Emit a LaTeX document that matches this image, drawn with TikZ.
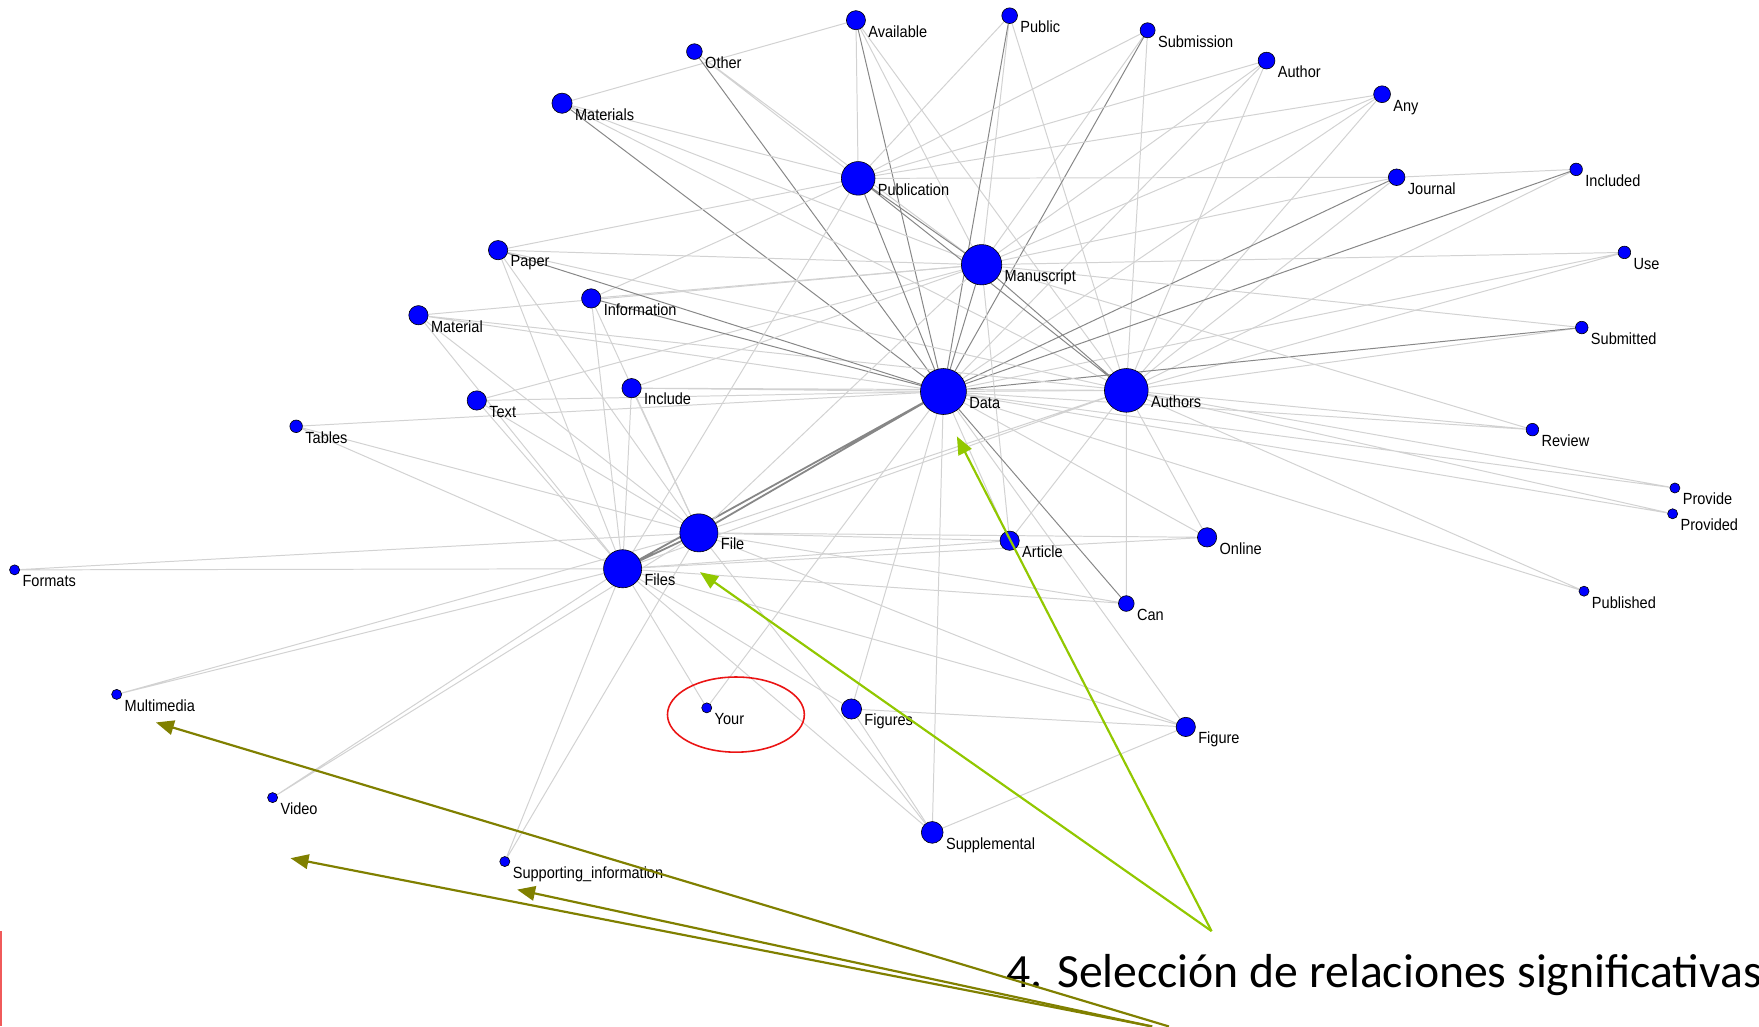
\documentclass[tikz,border=0pt]{standalone}
\usepackage{fontspec}
\setmainfont{Liberation Sans}
\newfontfamily\netfont[FakeStretch=0.9]{Liberation Sans}
\newfontfamily\slidefont{Carlito}
\usetikzlibrary{arrows.meta,backgrounds,shapes.geometric}
\definecolor{edgelight}{RGB}{210,210,210}
\definecolor{edgedark}{RGB}{135,135,135}
\definecolor{nodeblue}{RGB}{0,0,255}
\definecolor{arrowgreen}{RGB}{146,200,0}
\definecolor{arrowolive}{RGB}{128,128,0}
\definecolor{markred}{RGB}{235,20,20}
\definecolor{barred}{RGB}{240,90,90}

\begin{document}
\begin{tikzpicture}[x=0.02cm, y=-0.02cm,
    dot/.style={circle, draw=black, line width=0.3pt, fill=nodeblue, inner sep=0pt, minimum size=#1*0.04cm},
    lbl/.style={font=\netfont\fontsize{8.2}{9}\selectfont, inner sep=0pt, anchor=base west, xshift=0.04cm, yshift=-0.3cm},
    lnk/.style={draw=edgelight, line width=0.5pt},
    lnkd/.style={draw=edgedark, line width=0.5pt},
    hint/.style={line width=1.1pt, -{Triangle[length=0.32cm, width=0.26cm]}}]
    \useasboundingbox (0,0) rectangle (1568,915);

    % words of the upper fan
    \node[dot=8.5, label={[lbl, name=available-t]east:Available}] (available) at (763,18) {};
    \node[dot=7, label={[lbl, name=public-t]east:Public}] (public) at (900,14) {};
    \node[dot=6.7, label={[lbl, name=submission-t]east:Submission}] (submission) at (1023,27) {};
    \node[dot=7.5, label={[lbl, name=author-t]east:Author}] (author) at (1129,54) {};
    \node[dot=7.5, label={[lbl, name=any-t]east:Any}] (any) at (1232,84) {};
    \node[dot=7, label={[lbl, name=other-t]east:Other}] (other) at (619,46) {};
    \node[dot=9, label={[lbl, name=materials-t]east:Materials}] (materials) at (501,92) {};
    \node[dot=15, label={[lbl, name=publication-t]east:Publication}] (publication) at (765,159) {};
    \node[dot=7.4, label={[lbl, name=journal-t]east:Journal}] (journal) at (1245,158) {};
    \node[dot=5.6, label={[lbl, name=included-t]east:Included}] (included) at (1405,151) {};
    \node[dot=18, label={[lbl, name=manuscript-t]east:Manuscript}] (manuscript) at (875,236) {};
    \node[dot=5.6, label={[lbl, name=use-t]east:Use}] (use) at (1448,225) {};
    \node[dot=8.6, label={[lbl, name=paper-t]east:Paper}] (paper) at (444,223) {};
    \node[dot=8.6, label={[lbl, name=information-t]east:Information}] (information) at (527,266) {};
    \node[dot=8.6, label={[lbl, name=material-t]east:Material}] (material) at (373,281) {};
    \node[dot=5.6, label={[lbl, name=submitted-t]east:Submitted}] (submitted) at (1410,292) {};

    % the two big hubs
    \node[dot=20.5, label={[lbl, name=data-t]east:Data}] (data) at (841,349) {};
    \node[dot=19.5, label={[lbl, name=authors-t]east:Authors}] (authors) at (1004,348) {};

    % middle band
    \node[dot=8.6, label={[lbl, name=include-t]east:Include}] (include) at (563,346) {};
    \node[dot=8.6, label={[lbl, name=text-t]east:Text}] (text) at (425,357) {};
    \node[dot=5.6, label={[lbl, name=tables-t]east:Tables}] (tables) at (264,380) {};
    \node[dot=5.6, label={[lbl, name=review-t]east:Review}] (review) at (1366,383) {};
    \node[dot=4.5, label={[lbl, name=provide-t]east:Provide}] (provide) at (1493,435) {};
    \node[dot=4.5, label={[lbl, name=provided-t]east:Provided}] (provided) at (1491,458) {};
    \node[dot=17, label={[lbl, name=file-t]east:File}] (file) at (623,475) {};
    \node[dot=8.6, label={[lbl, name=article-t]east:Article}] (article) at (900,482) {};
    \node[dot=8.6, label={[lbl, name=online-t]east:Online}] (online) at (1076,479) {};
    \node[dot=4.5, label={[lbl, name=formats-t]east:Formats}] (formats) at (13,508) {};
    \node[dot=17, label={[lbl, name=files-t]east:Files}] (files) at (555,507) {};
    \node[dot=7, label={[lbl, name=can-t]east:Can}] (can) at (1004,538) {};
    \node[dot=4.5, label={[lbl, name=published-t]east:Published}] (published) at (1412,527) {};

    % lower words
    \node[dot=4.5, label={[lbl, name=multimedia-t]east:Multimedia}] (multimedia) at (104,619) {};
    \node[dot=4.5, label={[lbl, name=your-t]east:Your}] (your) at (630,631) {};
    \node[dot=9, label={[lbl, name=figures-t]east:Figures}] (figures) at (759,632) {};
    \node[dot=8.6, label={[lbl, name=figure-t]east:Figure}] (figure) at (1057,648) {};
    \node[dot=4.5, label={[lbl, name=video-t]east:Video}] (video) at (243,711) {};
    \node[dot=9.7, label={[lbl, name=supplemental-t]east:Supplemental}] (supplemental) at (831,742) {};
    \node[dot=4.5, label={[lbl, name=supporting-t]east:Supporting\_information}] (supporting) at (450,768) {};

    \begin{pgfonlayer}{background}
    \fill[white] (0,0) rectangle (1568,915);
    % links of the upper fan
    \draw[lnk] (available) -- (materials) (available) -- (publication) (available) -- (manuscript) (available) -- (authors);
    \draw[lnkd] (available) -- (data);
    \draw[lnk] (other) -- (publication) (other) -- (manuscript);
    \draw[lnkd] (other) -- (data);
    \draw[lnk] (public) -- (publication) (public) -- (manuscript) (public) -- (authors);
    \draw[lnkd] (public) -- (data);
    \draw[lnk] (submission) -- (publication) (submission) -- (manuscript) (submission) -- (authors);
    \draw[lnkd] (submission) -- (data);
    \draw[lnk] (author) -- (publication) (author) -- (manuscript) (author) -- (data) (author) -- (authors);
    \draw[lnk] (any) -- (publication) (any) -- (manuscript) (any) -- (data) (any) -- (authors);
    \draw[lnk] (materials) -- (authors) (materials) -- (manuscript) (materials) -- (publication);
    \draw[lnkd] (materials) -- (data);

    % right side
    \draw[lnk] (journal) -- (publication) (journal) -- (included) (journal) -- (manuscript) (journal) -- (authors);
    \draw[lnkd] (journal) -- (data);
    \draw[lnk] (included) -- (authors);
    \draw[lnkd] (included) -- (data);
    \draw[lnk] (use) -- (manuscript) (use) -- (data) (use) -- (authors);
    \draw[lnk] (submitted) -- (manuscript) (submitted) -- (authors);
    \draw[lnkd] (submitted) -- (data);
    \draw[lnk] (review) -- (manuscript) (review) -- (data) (review) -- (authors);
    \draw[lnk] (provide) -- (data) (provide) -- (authors) (provided) -- (data) (provided) -- (authors);
    \draw[lnk] (published) -- (data) (published) -- (authors);

    % middle and bottom
    \draw[lnk] (online) -- (data) (online) -- (authors) (online) -- (file) (online) -- (files);
    \draw[lnk] (article) -- (data) (article) -- (manuscript) (article) -- (authors) (article) -- (file) (article) -- (files);
    \draw[lnk] (can) -- (authors) (can) -- (file) (can) -- (files);
    \draw[lnkd] (can) -- (data);
    \draw[lnk] (figure) -- (data) (figure) -- (file) (figure) -- (files) (figure) -- (figures) (figure) -- (supplemental);
    \draw[lnk] (figures) -- (data) (figures) -- (files) (figures) -- (supplemental);
    \draw[lnk] (your) -- (data) (your) -- (files);
    \draw[lnk] (supplemental) -- (data) (supplemental) -- (files) (supplemental) -- (file);
    \draw[lnk] (supporting) -- (files) (supporting) -- (file);
    \draw[lnk] (video) -- (files) (video) -- (file);
    \draw[lnk] (multimedia) -- (files) (multimedia) -- (file);
    \draw[lnk] (formats) -- (files) (formats) -- (file);

    % left side
    \draw[lnk] (tables) -- (data) (tables) -- (files) (tables) -- (file);
    \draw[lnk] (text) -- (manuscript) (text) -- (data) (text) -- (files) (text) -- (file);
    \draw[lnk] (material) -- (manuscript) (material) -- (data) (material) -- (authors) (material) -- (files) (material) -- (file);
    \draw[lnk] (information) -- (publication) (information) -- (manuscript) (information) -- (files) (information) -- (file);
    \draw[lnkd] (information) -- (data);
    \draw[lnk] (paper) -- (publication) (paper) -- (manuscript) (paper) -- (authors) (paper) -- (files) (paper) -- (file);
    \draw[lnkd] (paper) -- (data);
    \draw[lnk] (include) -- (data) (include) -- (authors) (include) -- (manuscript) (include) -- (files) (include) -- (file);

    % between the hubs
    \draw[lnkd] (publication) -- (manuscript) (publication) -- (data) (publication) -- (authors) (manuscript) -- (data) (manuscript) -- (authors);
    \draw[lnkd, line width=0.9pt] (data) -- (file) (data) -- (files) (file) -- (files);
    \draw[lnk] (data) -- (authors) (authors) -- (file) (authors) -- (files) (publication) -- (files) (manuscript) -- (file);
    \end{pgfonlayer}

    % marks on the slide
    \node[ellipse, draw=markred, line width=0.8pt, inner sep=0pt, minimum width=122*0.02cm, minimum height=67*0.02cm] (yourring) at (656,637) {};
    \node[font=\slidefont\fontsize{24.2}{29}\selectfont, anchor=base west, inner sep=0pt] (caption) at (897,880) {4. Selección de relaciones significativas};

    \coordinate (greenfoot) at (1080,830);
    \coordinate (greendata) at (853,389);
    \coordinate (greenfile) at (624,510);
    \draw[hint, arrowgreen] (greenfoot) -- (greendata);
    \draw[hint, arrowgreen] (greenfoot) -- (greenfile);

    \coordinate (olivefoot) at (1042,915);
    \coordinate (olivefoottwo) at (1027,915);
    \coordinate (olivemulti) at (139,644);
    \coordinate (olivevideo) at (259,765);
    \coordinate (olivesupp) at (461,793);
    \draw[hint, arrowolive] (olivefoot) -- (olivemulti);
    \draw[hint, arrowolive] (olivefoottwo) -- (olivevideo);
    \draw[hint, arrowolive] (olivefoottwo) -- (olivesupp);

    % slide edge
    \draw[barred, line width=0.04cm] (1,830) -- (1,915);
\end{tikzpicture}
\end{document}
